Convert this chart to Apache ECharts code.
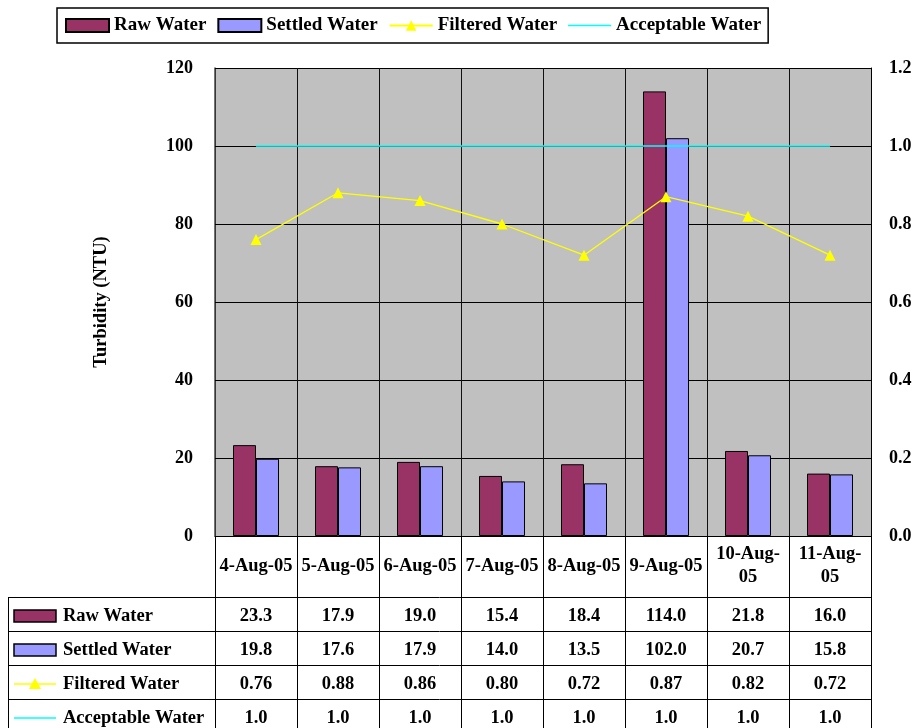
<!DOCTYPE html>
<html>
<head>
<meta charset="utf-8">
<script src="https://cdn.jsdelivr.net/npm/echarts@6/dist/echarts.min.js"></script>
<style>
  html, body { margin: 0; padding: 0; background: #fff; }
  #chart { width: 916px; height: 728px; }
</style>
</head>
<body>
<div id="chart"></div>
<script>
// Daily turbidity readings
const dates = ['4-Aug-05', '5-Aug-05', '6-Aug-05', '7-Aug-05', '8-Aug-05', '9-Aug-05', '10-Aug-05', '11-Aug-05'];
const rawWater = [23.3, 17.9, 19.0, 15.4, 18.4, 114.0, 21.8, 16.0];
const settledWater = [19.8, 17.6, 17.9, 14.0, 13.5, 102.0, 20.7, 15.8];
const filteredWater = [0.76, 0.88, 0.86, 0.80, 0.72, 0.87, 0.82, 0.72];
const acceptableWater = [1.0, 1.0, 1.0, 1.0, 1.0, 1.0, 1.0, 1.0];
const leftTicks = [0, 20, 40, 60, 80, 100, 120];
const rightTicks = [0.0, 0.2, 0.4, 0.6, 0.8, 1.0, 1.2];

const SERIF = "'Liberation Serif', 'Times New Roman', serif";
const COLORS = { raw: '#993366', settled: '#9999FF', filtered: '#FFFF00', acceptable: '#00FFFF' };

// Layout of the data table under the plot
const GRID = { left: 215, right: 45, top: 68, bottom: 192 };
const W = 916, H = 728;
const plotBottom = H - GRID.bottom;
const headerH = 61;
const rowH = 34;
const tableLeft = 8;

// legend key: a plain horizontal stroke (corner points fix the icon box)
const LINE_KEY = 'path://M0,0 L0,0.01 M43,13 L43,12.99 M0,5.8 L43,5.8 L43,7.2 L0,7.2 Z';

const chart = echarts.init(document.getElementById('chart'), null, { renderer: 'canvas' });

function wrapDate(s) {
  if (s.length > 8) {
    const i = s.lastIndexOf('-');
    return s.slice(0, i + 1) + '\n' + s.slice(i + 1);
  }
  return s;
}

chart.setOption({
  animation: false,
  backgroundColor: '#fff',
  textStyle: { fontFamily: SERIF },
  legend: {
    left: 57, top: 8,
    padding: [8, 7, 8, 8],
    itemWidth: 43, itemHeight: 13, itemGap: 11,
    backgroundColor: '#fff',
    borderColor: '#000', borderWidth: 1.5,
    textStyle: { fontFamily: SERIF, fontWeight: 'bold', fontSize: 19, color: '#000' },
    data: [
      { name: 'Raw Water', icon: 'rect' },
      { name: 'Settled Water', icon: 'rect' },
      { name: 'Filtered Water' },
      { name: 'Acceptable Water', icon: LINE_KEY }
    ]
  },
  grid: { left: GRID.left, right: GRID.right, top: GRID.top, bottom: GRID.bottom, show: true, backgroundColor: '#C0C0C0', borderWidth: 0 },
  xAxis: {
    type: 'category',
    data: dates,
    boundaryGap: true,
    axisLine: { show: true, lineStyle: { color: '#000', width: 1 } },
    axisTick: { show: true, interval: 0, length: GRID.bottom, lineStyle: { color: '#000', width: 1 } },
    splitLine: { show: true, interval: 0, lineStyle: { color: '#111', width: 1 } },
    axisLabel: {
      interval: 0, margin: 30, verticalAlign: 'middle', lineHeight: 23,
      fontFamily: SERIF, fontWeight: 'bold', fontSize: 18.5, color: '#000',
      formatter: wrapDate
    }
  },
  yAxis: [
    {
      type: 'value', min: 0, max: 120, interval: 20,
      name: 'Turbidity (NTU)', nameLocation: 'middle', nameGap: 104, nameRotate: 90,
      nameTextStyle: { fontFamily: SERIF, fontWeight: 'bold', fontSize: 18.5, color: '#000' },
      axisLine: { show: true, lineStyle: { color: '#444', width: 1.5 } },
      axisTick: { show: true, inside: true, length: 6, lineStyle: { color: '#000' } },
      splitLine: { show: true, lineStyle: { color: '#000', width: 1 } },
      axisLabel: {
        margin: 22, fontFamily: SERIF, fontWeight: 'bold', fontSize: 18, color: '#000',
        formatter: v => leftTicks.indexOf(v) >= 0 ? String(v) : ''
      }
    },
    {
      type: 'value', min: 0, max: 1.2, interval: 0.2,
      axisLine: { show: true, lineStyle: { color: '#000', width: 1 } },
      axisTick: { show: true, inside: true, length: 6, lineStyle: { color: '#000' } },
      splitLine: { show: false },
      axisLabel: {
        margin: 18, fontFamily: SERIF, fontWeight: 'bold', fontSize: 18, color: '#000',
        formatter: v => {
          const t = rightTicks.find(r => Math.abs(r - v) < 1e-9);
          return t === undefined ? '' : t.toFixed(1);
        }
      }
    }
  ],
  series: [
    {
      name: 'Raw Water', type: 'bar', data: rawWater,
      barWidth: 23, barGap: '0%',
      itemStyle: { color: COLORS.raw, borderColor: '#000', borderWidth: 1 }
    },
    {
      name: 'Settled Water', type: 'bar', data: settledWater,
      barWidth: 23, barGap: '0%',
      itemStyle: { color: COLORS.settled, borderColor: '#000', borderWidth: 1 }
    },
    {
      name: 'Filtered Water', type: 'line', yAxisIndex: 1, data: filteredWater,
      symbol: 'triangle', symbolSize: 11,
      itemStyle: { color: COLORS.filtered },
      lineStyle: { color: COLORS.filtered, width: 1.3 },
      z: 4
    },
    {
      name: 'Acceptable Water', type: 'line', yAxisIndex: 1, data: acceptableWater,
      symbol: 'none', showSymbol: false,
      itemStyle: { color: COLORS.acceptable },
      lineStyle: { color: COLORS.acceptable, width: 1.5 },
      z: 3
    }
  ]
});

// Data table below the category axis
function buildTable() {
  const rows = [
    { name: 'Raw Water', values: rawWater, fmt: v => v.toFixed(1), icon: 'rect', color: COLORS.raw },
    { name: 'Settled Water', values: settledWater, fmt: v => v.toFixed(1), icon: 'rect', color: COLORS.settled },
    { name: 'Filtered Water', values: filteredWater, fmt: v => v.toFixed(2), icon: 'tri', color: COLORS.filtered },
    { name: 'Acceptable Water', values: acceptableWater, fmt: v => v.toFixed(1), icon: 'line', color: COLORS.acceptable }
  ];
  const right = W - GRID.right;
  const top = plotBottom + headerH;
  const els = [];
  // horizontal rules
  for (let r = 0; r <= rows.length; r++) {
    const y = top + r * rowH + 0.5;
    els.push({ type: 'line', shape: { x1: tableLeft, y1: y, x2: right, y2: y }, style: { stroke: '#000', lineWidth: 1 }, silent: true });
  }
  // outer left border
  els.push({ type: 'line', shape: { x1: tableLeft + 0.5, y1: top, x2: tableLeft + 0.5, y2: H }, style: { stroke: '#000', lineWidth: 1 }, silent: true });

  const iconX1 = 14, iconX2 = 56;
  rows.forEach((row, r) => {
    const cy = top + r * rowH + rowH / 2 + 2;
    if (row.icon === 'rect') {
      els.push({ type: 'rect', shape: { x: iconX1, y: cy - 6, width: iconX2 - iconX1, height: 12 }, style: { fill: row.color, stroke: '#000', lineWidth: 1.5 }, silent: true });
    } else {
      els.push({ type: 'line', shape: { x1: iconX1, y1: cy, x2: iconX2, y2: cy }, style: { stroke: row.color, lineWidth: 1.5 }, silent: true });
      if (row.icon === 'tri') {
        const mx = (iconX1 + iconX2) / 2;
        els.push({ type: 'polygon', shape: { points: [[mx, cy - 6], [mx - 6, cy + 5], [mx + 6, cy + 5]] }, style: { fill: row.color }, silent: true });
      }
    }
    els.push({
      type: 'text', x: 63, y: cy, silent: true,
      style: { text: row.name, fill: '#000', font: 'bold 18.5px ' + SERIF, textVerticalAlign: 'middle', verticalAlign: 'middle' }
    });
    row.values.forEach((v, i) => {
      const cx = chart.convertToPixel({ xAxisIndex: 0 }, i);
      els.push({
        type: 'text', x: cx, y: cy, silent: true,
        style: { text: row.fmt(v), fill: '#000', font: 'bold 18.5px ' + SERIF, align: 'center', textAlign: 'center', verticalAlign: 'middle', textVerticalAlign: 'middle' }
      });
    });
  });
  chart.setOption({ graphic: { elements: els } });
}
buildTable();
</script>
</body>
</html>
